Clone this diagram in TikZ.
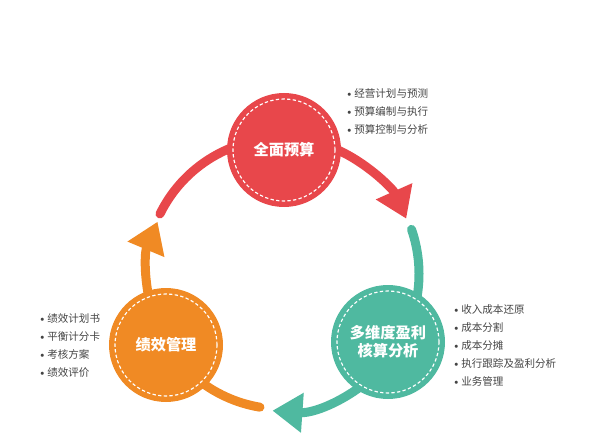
\documentclass[tikz,border=0pt]{standalone}
\usepackage{fontspec}
\setmainfont{Noto Sans CJK SC}
\usetikzlibrary{arrows.meta}

\definecolor{budgetred}{HTML}{E8474B}
\definecolor{profitgreen}{HTML}{4FB9A0}
\definecolor{perforange}{HTML}{F08A24}
\definecolor{listgray}{HTML}{444444}

\newcommand{\itemdot}{\raisebox{0.1ex}{$\scriptstyle\bullet$}\hspace{0.25em}}

\tikzset{
  hub/.style={circle, fill=#1, minimum size=34.2mm, inner sep=0pt, text=white,
    font=\bfseries\fontsize{13}{15.4}\selectfont, align=center,
    path picture={\draw[white, line width=0.35mm, dash pattern=on 1mm off 0.7mm]
      (path picture bounding box.center) circle (15.3mm);}},
  ringarrow/.style={draw=#1, line width=2.7mm, line cap=round,
    -{Triangle[length=9mm, width=11.4mm]}},
  items/.style={anchor=north west, inner sep=0pt, align=left, text=listgray,
    font=\fontsize{9}{15.4}\selectfont}
}

\begin{document}
\begin{tikzpicture}[x=0.3mm, y=0.3mm]
    \useasboundingbox (0,0) rectangle (591,432);
    \coordinate (O) at (282,158);

% the three arcs of the cycle, under the circles
\coordinate (budgetstart) at ([shift={(O)}]153.8:136);
\coordinate (profitstart) at ([shift={(O)}]19:137);
\coordinate (perfstart) at ([shift={(O)}]260.6:135);
\draw[ringarrow=budgetred] (budgetstart) arc[start angle=153.8, end angle=24, radius=136];
\draw[ringarrow=profitgreen] (profitstart) arc[start angle=19, end angle=-94, radius=137];
\draw[ringarrow=perforange] (perfstart) arc[start angle=260.6, end angle=157.2, radius=135];

\node[hub=budgetred] (budget) at (284,282) {全面预算};
\node[hub=profitgreen] (profit) at (388,90) {多维度盈利\\核算分析};
\node[hub=perforange] (perf) at (166,87) {绩效管理};

\node[items] (budgetlist) at (347,344) {\itemdot 经营计划与预测\\\itemdot 预算编制与执行\\\itemdot 预算控制与分析};
\node[items] (profitlist) at (454,128) {\itemdot 收入成本还原\\\itemdot 成本分割\\\itemdot 成本分摊\\\itemdot 执行跟踪及盈利分析\\\itemdot 业务管理};
\node[items] (perflist) at (40,119) {\itemdot 绩效计划书\\\itemdot 平衡计分卡\\\itemdot 考核方案\\\itemdot 绩效评价};
\end{tikzpicture}
\end{document}
